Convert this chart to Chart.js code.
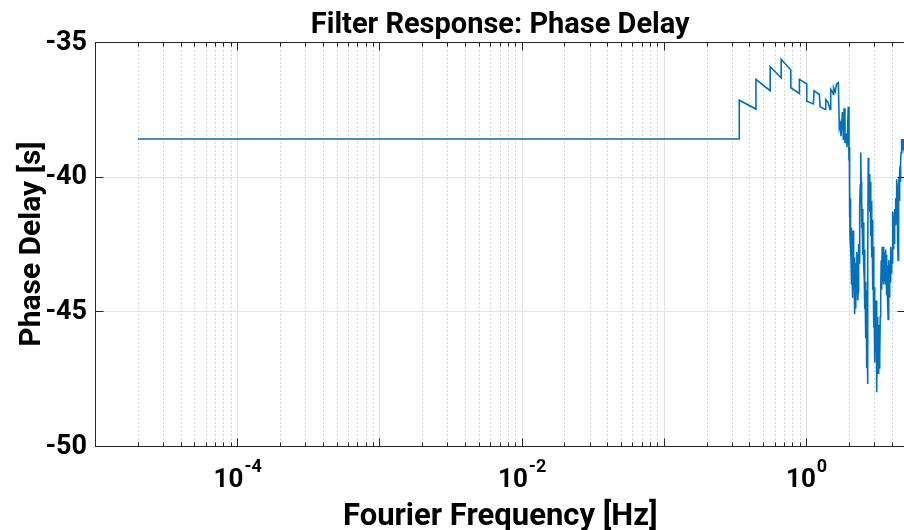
<!DOCTYPE html>
<html>
<head>
<meta charset="utf-8">
<script src="https://cdn.jsdelivr.net/npm/chart.js@4/dist/chart.umd.min.js"></script>
<style>
  html, body { margin: 0; padding: 0; background: #ffffff; overflow: hidden; }
  #wrap { width: 906px; height: 530px; }
</style>
</head>
<body>
<div id="wrap"><canvas id="c" width="906" height="530"></canvas></div>
<script>
// ---- chart texts ----
const chartTitle = "Filter Response: Phase Delay";
const xAxisTitle = "Fourier Frequency [Hz]";
const yAxisTitle = "Phase Delay [s]";

// ---- axis ranges and tick labels ----
const xMin = 1e-5, xMax = 5;
const yMin = -50, yMax = -35;
const yTickValues = [-50, -45, -40, -35];
const yTickLabels = ["-50", "-45", "-40", "-35"];
const xLabelValues = [1e-4, 1e-2, 1];
const xLabelBase = ["10", "10", "10"];
const xLabelExp = ["-4", "-2", "0"];

// ---- series: frequency [Hz] ----
const freqHz = [
  0.00002, 0.339, 0.339, 0.444, 0.444, 0.559, 0.559, 0.668, 0.668, 0.781,
  0.781, 0.897, 0.897, 1.011, 1.011, 1.125, 1.138, 1.24, 1.254, 1.36,
  1.375, 1.42, 1.474, 1.49, 1.53, 1.555, 1.56, 1.60, 1.64, 1.686,
  1.713, 1.74, 1.76, 1.80, 1.828, 1.848, 1.877, 1.90, 1.94, 1.979,
  2.003, 2.013, 2.019, 2.029, 2.036, 2.046, 2.052, 2.062, 2.069, 2.079,
  2.086, 2.096, 2.103, 2.113, 2.120, 2.130, 2.137, 2.147, 2.154, 2.165,
  2.172, 2.183, 2.193, 2.207, 2.214, 2.225, 2.236, 2.243, 2.254, 2.269,
  2.280, 2.287, 2.298, 2.306, 2.317, 2.324, 2.336, 2.347, 2.359, 2.370,
  2.381, 2.393, 2.405, 2.412, 2.424, 2.432, 2.440, 2.448, 2.456, 2.464,
  2.472, 2.484, 2.496, 2.504, 2.512, 2.524, 2.537, 2.545, 2.553, 2.565,
  2.578, 2.586, 2.594, 2.607, 2.615, 2.624, 2.637, 2.645, 2.658, 2.667,
  2.680, 2.689, 2.702, 2.710, 2.723, 2.736, 2.745, 2.759, 2.768, 2.781,
  2.795, 2.804, 2.813, 2.827, 2.841, 2.850, 2.859, 2.873, 2.882, 2.896,
  2.905, 2.919, 2.929, 2.943, 2.953, 2.967, 2.977, 2.992, 3.001, 3.016,
  3.025, 3.035, 3.050, 3.060, 3.075, 3.085, 3.099, 3.109, 3.124, 3.140,
  3.150, 3.160, 3.175, 3.191, 3.201, 3.217, 3.227, 3.243, 3.253, 3.269,
  3.279, 3.295, 3.306, 3.322, 3.333, 3.349, 3.360, 3.376, 3.387, 3.404,
  3.415, 3.432, 3.453, 3.470, 3.481, 3.498, 3.509, 3.527, 3.538, 3.555,
  3.567, 3.584, 3.596, 3.613, 3.625, 3.643, 3.655, 3.673, 3.684, 3.702,
  3.720, 3.732, 3.750, 3.762, 3.780, 3.793, 3.811, 3.824, 3.843, 3.855,
  3.874, 3.886, 3.905, 3.918, 3.937, 3.949, 3.968, 3.981, 4.001, 4.013,
  4.033, 4.046, 4.066, 4.079, 4.099, 4.112, 4.133, 4.145, 4.165, 4.179,
  4.199, 4.213, 4.233, 4.247, 4.268, 4.281, 4.302, 4.316, 4.337, 4.351,
  4.372, 4.386, 4.408, 4.422, 4.443, 4.458, 4.472, 4.494, 4.508, 4.530,
  4.545, 4.567, 4.582, 4.604, 4.619, 4.642, 4.657, 4.679, 4.694, 4.717,
  4.732, 4.755, 4.771, 4.794, 4.810, 4.833, 4.849, 4.872, 4.895
];

// ---- series: phase delay [s] ----
const delaySec = [
  -38.60, -38.60, -37.16, -37.49, -36.39, -36.81, -35.92, -36.33, -35.64, -36.04,
  -36.70, -36.91, -36.39, -36.56, -37.20, -37.30, -36.81, -36.95, -37.40, -37.50,
  -37.13, -37.22, -37.50, -36.76, -36.85, -36.95, -36.70, -36.85, -36.55, -36.51,
  -38.20, -38.05, -38.50, -37.60, -38.64, -37.46, -38.76, -38.40, -38.90, -37.40,
  -39.4, -38.9, -41.5, -40.2, -42.2, -41.0, -40.8, -42.6, -43.0, -41.9,
  -42.4, -44.0, -43.6, -42.8, -44.5, -43.9, -42.6, -42.0, -43.8, -44.2,
  -43.0, -43.5, -44.8, -45.1, -44.0, -43.4, -44.9, -44.4, -43.2, -42.8,
  -43.9, -44.1, -42.9, -43.2, -44.6, -44.3, -42.8, -42.5, -43.2, -41.8,
  -42.2, -41.1, -40.3, -39.6, -39.4, -39.1, -40.2, -40.5, -41.9, -41.6,
  -40.9, -42.0, -41.4, -41.2, -42.9, -42.6, -41.7, -42.1, -43.4, -43.8,
  -42.7, -43.0, -44.9, -44.6, -43.9, -45.0, -46.0, -44.2, -45.4, -46.3,
  -47.1, -45.5, -46.8, -47.7, -43.0, -39.3, -40.1, -39.8, -40.9, -40.4,
  -39.9, -40.0, -41.3, -40.9, -40.2, -40.6, -42.2, -41.8, -40.9, -41.3,
  -43.0, -42.4, -41.6, -42.0, -44.2, -43.7, -42.6, -43.1, -45.6, -45.2,
  -44.1, -44.8, -46.9, -45.3, -45.8, -46.4, -45.0, -44.6, -46.2, -47.2,
  -48.0, -46.0, -46.5, -45.2, -45.7, -47.3, -47.0, -45.5, -45.9, -47.1,
  -46.6, -45.9, -46.7, -45.2, -44.8, -44.9, -44.2, -43.1, -43.4, -44.2,
  -43.9, -42.6, -42.8, -43.9, -43.5, -42.6, -42.9, -44.0, -43.7, -42.8,
  -43.0, -43.9, -43.4, -42.7, -42.9, -44.0, -43.6, -42.9, -43.2, -44.4,
  -44.1, -43.3, -43.6, -44.8, -45.3, -44.4, -44.0, -43.1, -43.4, -44.5,
  -44.3, -43.5, -43.9, -43.1, -43.4, -42.6, -42.9, -43.6, -43.3, -42.7,
  -43.2, -42.0, -42.3, -41.3, -41.6, -42.7, -42.4, -41.5, -41.8, -42.5,
  -42.1, -41.2, -41.5, -40.8, -41.1, -41.8, -41.5, -40.5, -40.7, -40.1,
  -40.5, -41.2, -41.8, -42.6, -43.1, -42.0, -41.3, -40.4, -40.0, -40.9,
  -40.4, -39.8, -39.6, -40.2, -39.9, -39.4, -39.1, -38.8, -38.6, -39.0,
  -38.9, -38.6, -38.7, -39.0, -38.9, -38.7, -38.6, -38.9, -38.8
];

const points = freqHz.map((f, i) => ({ x: f, y: delaySec[i] }));

const FONT = "Roboto, 'Liberation Sans', Arial, sans-serif";
const AXIS_COLOR = "#262626";

const decorPlugin = {
  id: "matlabDecor",
  beforeDatasetsDraw(chart) {
    const { ctx, chartArea: a, scales } = chart;
    const xs = scales.x, ys = scales.y;
    ctx.save();
    // minor vertical grid (dotted)
    ctx.strokeStyle = "#d6d6d6";
    ctx.lineWidth = 1;
    ctx.setLineDash([2, 2]);
    for (let k = -5; k <= 0; k++) {
      for (let m = 2; m <= 9; m++) {
        const v = m * Math.pow(10, k);
        if (v > xMax) continue;
        const px = Math.round(xs.getPixelForValue(v)) + 0.5;
        ctx.beginPath(); ctx.moveTo(px, a.top); ctx.lineTo(px, a.bottom); ctx.stroke();
      }
    }
    ctx.setLineDash([]);
    // major vertical grid
    ctx.strokeStyle = "#e2e2e2";
    for (let k = -4; k <= 0; k++) {
      const px = Math.round(xs.getPixelForValue(Math.pow(10, k))) + 0.5;
      ctx.beginPath(); ctx.moveTo(px, a.top); ctx.lineTo(px, a.bottom); ctx.stroke();
    }
    // horizontal grid
    ctx.strokeStyle = "#e5e5e5";
    [-45, -40].forEach(v => {
      const py = Math.round(ys.getPixelForValue(v)) + 0.5;
      ctx.beginPath(); ctx.moveTo(a.left, py); ctx.lineTo(a.right, py); ctx.stroke();
    });
    ctx.restore();
  },
  afterDatasetsDraw(chart) {
    const { ctx, chartArea: a, scales } = chart;
    const xs = scales.x, ys = scales.y;
    ctx.save();
    const L = Math.round(a.left) + 0.5, R = Math.round(a.right) - 0.5;
    const T = Math.round(a.top) + 0.5, B = Math.round(a.bottom) + 0.5;
    // box
    ctx.strokeStyle = AXIS_COLOR;
    ctx.lineWidth = 1;
    ctx.strokeRect(L, T, R - L, B - T);
    // x ticks (top & bottom)
    for (let k = -5; k <= 0; k++) {
      for (let m = 1; m <= 9; m++) {
        const v = m * Math.pow(10, k);
        if (v > xMax) continue;
        const px = Math.round(xs.getPixelForValue(v)) + 0.5;
        const len = m === 1 ? 8 : 4;
        ctx.beginPath();
        ctx.moveTo(px, B); ctx.lineTo(px, B - len);
        ctx.moveTo(px, T); ctx.lineTo(px, T + len);
        ctx.stroke();
      }
    }
    // y ticks (left & right)
    yTickValues.forEach(v => {
      const py = Math.round(ys.getPixelForValue(v)) + 0.5;
      ctx.beginPath();
      ctx.moveTo(L, py); ctx.lineTo(L + 8, py);
      ctx.moveTo(R, py); ctx.lineTo(R - 8, py);
      ctx.stroke();
    });
    // y tick labels
    ctx.fillStyle = "#000000";
    ctx.font = "bold 27px " + FONT;
    ctx.textAlign = "right";
    ctx.textBaseline = "middle";
    yTickValues.forEach((v, i) => {
      ctx.fillText(yTickLabels[i], a.left - 8, ys.getPixelForValue(v) + 1);
    });
    // x tick labels with superscript exponent
    ctx.textBaseline = "alphabetic";
    ctx.textAlign = "left";
    xLabelValues.forEach((v, i) => {
      const px = xs.getPixelForValue(v);
      ctx.font = "bold 26px " + FONT;
      const wb = ctx.measureText(xLabelBase[i]).width;
      ctx.font = "bold 18px " + FONT;
      const we = ctx.measureText(xLabelExp[i]).width;
      const x0 = px - (wb + we) / 2;
      ctx.font = "bold 26px " + FONT;
      ctx.fillText(xLabelBase[i], x0, 487);
      ctx.font = "bold 18px " + FONT;
      ctx.fillText(xLabelExp[i], x0 + wb + 1, 472);
    });
    // title
    ctx.textAlign = "center";
    ctx.font = "bold 29px " + FONT;
    ctx.fillText(chartTitle, (a.left + a.right) / 2, 33);
    // x axis title
    ctx.font = "bold 31px " + FONT;
    ctx.fillText(xAxisTitle, (a.left + a.right) / 2, 525);
    // y axis title
    ctx.save();
    ctx.translate(40, (a.top + a.bottom) / 2);
    ctx.rotate(-Math.PI / 2);
    ctx.font = "bold 30px " + FONT;
    ctx.fillText(yAxisTitle, 0, 0);
    ctx.restore();
    ctx.restore();
  }
};

new Chart(document.getElementById("c"), {
  type: "line",
  data: {
    datasets: [{
      data: points,
      borderColor: "#0072BD",
      borderWidth: 1.6,
      pointRadius: 0,
      tension: 0,
      fill: false
    }]
  },
  options: {
    responsive: false,
    animation: false,
    layout: { padding: { left: 95, top: 42, right: 0.5, bottom: 84 } },
    plugins: { legend: { display: false }, tooltip: { enabled: false }, title: { display: false } },
    scales: {
      x: { type: "logarithmic", min: xMin, max: xMax, display: false },
      y: { type: "linear", min: yMin, max: yMax, display: false }
    }
  },
  plugins: [decorPlugin]
});
</script>
</body>
</html>
